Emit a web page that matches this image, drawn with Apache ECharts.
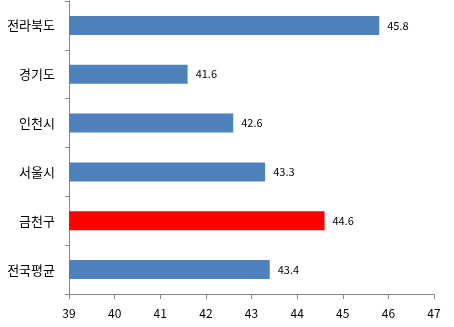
<!DOCTYPE html>
<html><head><meta charset="utf-8">
<script src="https://cdn.jsdelivr.net/npm/echarts@6/dist/echarts.min.js"></script>
<style>html,body{margin:0;padding:0;background:#fff}#c{width:454px;height:327px}</style>
</head><body><div id="c"></div>
<script>
const categories = ['전라북도', '경기도', '인천시', '서울시', '금천구', '전국평균'];
const values = [45.8, 41.6, 42.6, 43.3, 44.6, 43.4];
const highlight = '금천구';
const xTicks = [39, 47, 1];

const chart = echarts.init(document.getElementById('c'), null, {renderer: 'canvas'});
const font = '"Noto Sans CJK KR", "Noto Sans", sans-serif';
chart.setOption({
  animation: false,
  grid: {left: 69, right: 20, top: 1, bottom: 33, containLabel: false},
  xAxis: {
    type: 'value', min: xTicks[0], max: xTicks[1], interval: xTicks[2],
    axisLine: {show: true, lineStyle: {color: '#868686', width: 1}},
    axisTick: {show: true, length: 5, lineStyle: {color: '#868686'}},
    splitLine: {show: false},
    axisLabel: {color: '#000', fontFamily: font, fontSize: 12, margin: 13}
  },
  yAxis: {
    type: 'category', data: categories, inverse: true,
    axisLine: {show: true, lineStyle: {color: '#868686', width: 1}},
    axisTick: {show: true, length: 4, lineStyle: {color: '#868686'}},
    axisLabel: {color: '#000', fontFamily: font, fontSize: 13, margin: 14}
  },
  series: [{
    type: 'bar', barWidth: 19,
    data: values.map((v, i) => ({value: v, itemStyle: {color: categories[i] === highlight ? '#FF0000' : '#4F81BD'}})),
    label: {show: true, position: 'right', distance: 8, color: '#000', fontFamily: font, fontSize: 11}
  }]
});
</script></body></html>
